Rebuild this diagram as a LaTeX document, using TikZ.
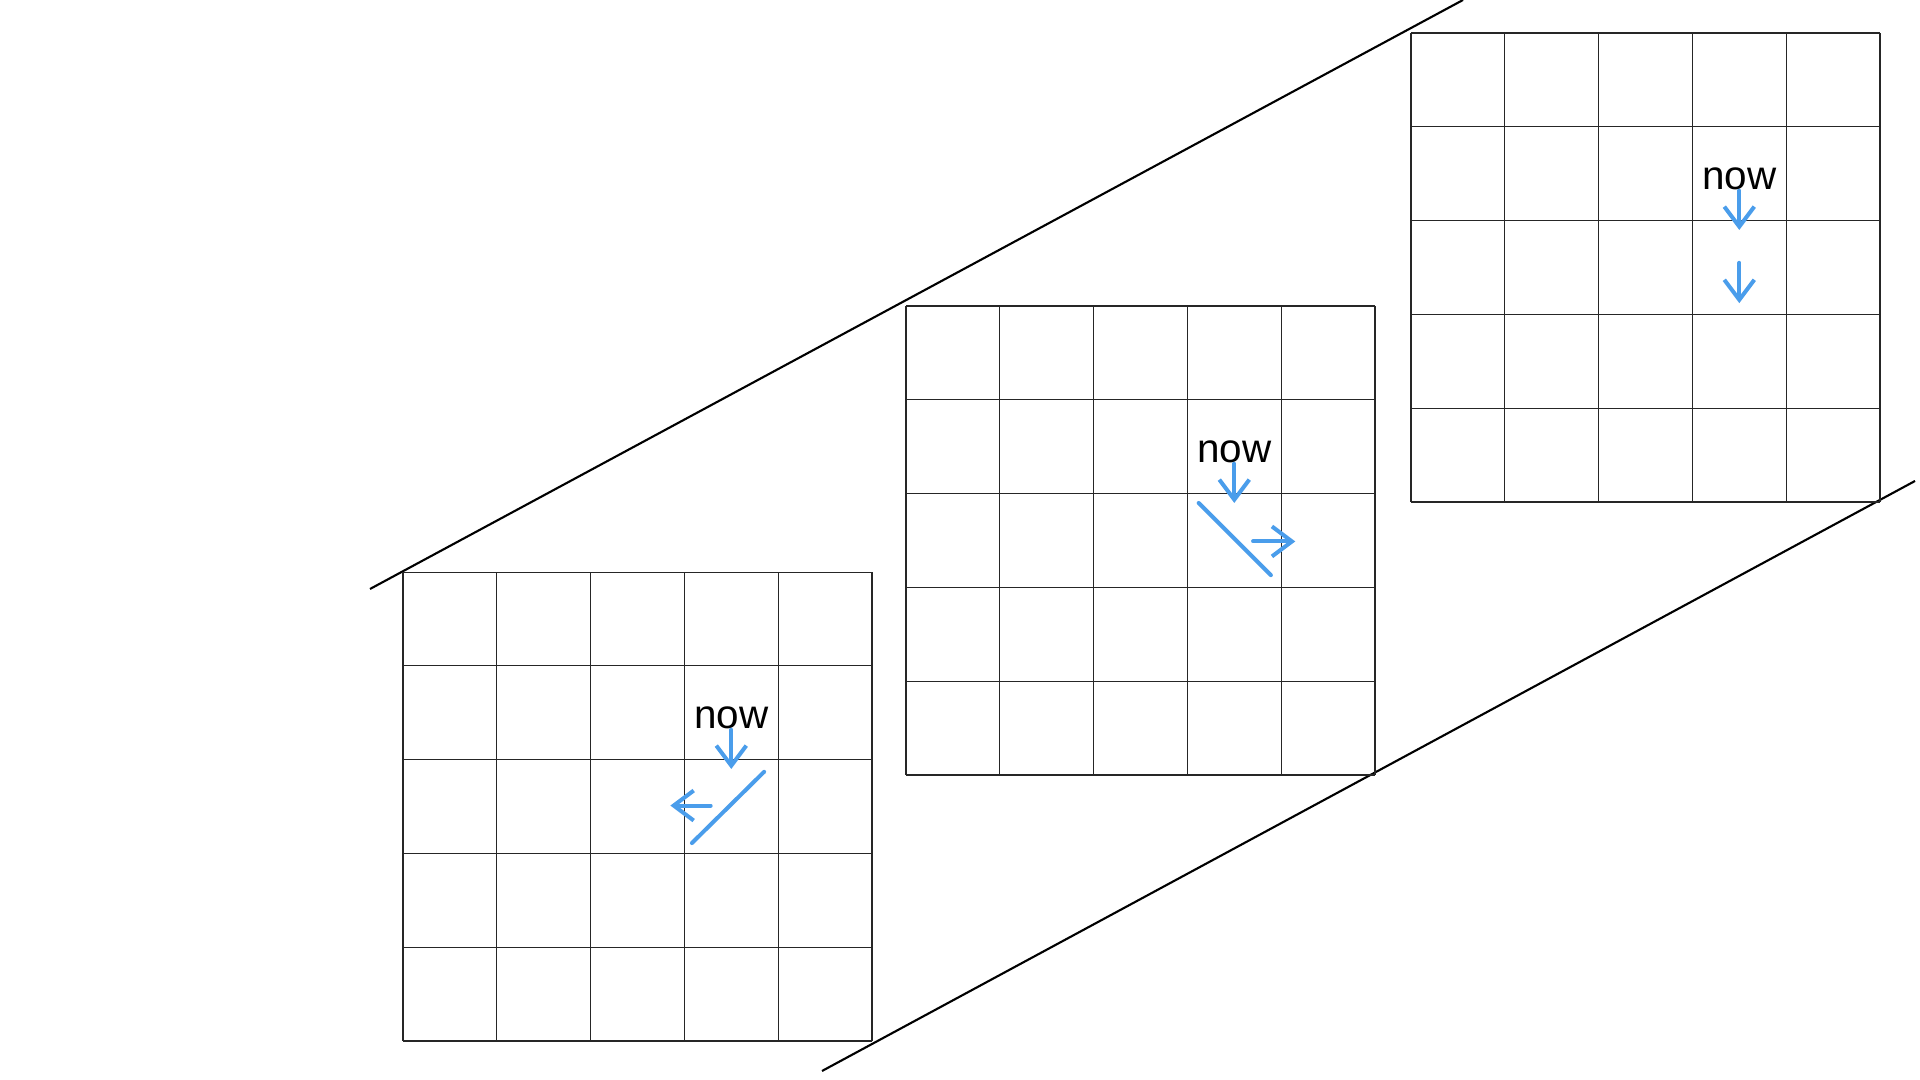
\documentclass[tikz,border=0pt]{standalone}
\usepackage{fontspec}
\setsansfont{Liberation Sans}
\usepackage{xcolor}
\usetikzlibrary{arrows.meta,calc}
\definecolor{ink}{HTML}{000000}
\definecolor{sketchblue}{HTML}{4A9DEB}
\tikzset{
  cellline/.style={draw=ink!85, line width=.3pt},
  lane/.style={draw=ink, line width=.6pt},
  nowlabel/.style={font=\sffamily\fontsize{11.5}{13}\selectfont, text=ink,
    inner sep=0pt, anchor=base},
  sketch/.style={draw=sketchblue, line width=.4mm, line cap=round},
  sketcharrow/.style={sketch, -{Straight Barb[length=2mm,width=3mm]}}
}
% one 5x5 board, top-left corner at #2, extra marks in #3 (cell units)
\newcommand{\BoardGrid}[3]{%
  \begin{scope}[shift={#2}, x=9.38mm, y=9.38mm]
    \draw[cellline, step=9.38mm] (0,-5) grid (5,0);
    \node[nowlabel] (#1now) at (3.5,-1.67) {now};
    \coordinate (#1tip) at (3.5,-2.1);
    \draw[sketcharrow] (#1now.south) -- (#1tip);
    #3
  \end{scope}
}

\begin{document}
\begin{tikzpicture}[x=1mm,y=1mm]
  \useasboundingbox (0,0) rectangle (192,108);
  \fill[white] (0,0) rectangle (192,108);

  % ------------------------------------------------------------------
  % lane borders
  \coordinate (laneTopA) at (37.0,49.1);
  \coordinate (laneTopB) at (146.3,108);
  \coordinate (laneBotA) at (82.2,0.9);
  \coordinate (laneBotB) at (191.5,59.9);
  \draw[lane] (laneTopA) -- (laneTopB);
  \draw[lane] (laneBotA) -- (laneBotB);

  % ------------------------------------------------------------------
  % boards
  \BoardGrid{first}{(40.3,50.8)}{%
    \coordinate (firstwallA) at (3.08,-2.89);
    \coordinate (firstwallB) at (3.85,-2.13);
    \draw[sketch] (firstwallA) -- (firstwallB);
    \coordinate (firstturn) at (3.28,-2.49);
    \coordinate (firstturntip) at (2.85,-2.49);
    \draw[sketcharrow] (firstturn) -- (firstturntip);
  }
  \BoardGrid{second}{(90.6,77.4)}{%
    \coordinate (secondwallA) at (3.12,-2.10);
    \coordinate (secondwallB) at (3.89,-2.87);
    \draw[sketch] (secondwallA) -- (secondwallB);
    \coordinate (secondturn) at (3.70,-2.51);
    \coordinate (secondturntip) at (4.15,-2.51);
    \draw[sketcharrow] (secondturn) -- (secondturntip);
  }
  \BoardGrid{third}{(141.1,104.7)}{%
    \coordinate (thirdnext) at (3.5,-2.45);
    \coordinate (thirdnexttip) at (3.5,-2.88);
    \draw[sketcharrow] (thirdnext) -- (thirdnexttip);
  }
\end{tikzpicture}
\end{document}
